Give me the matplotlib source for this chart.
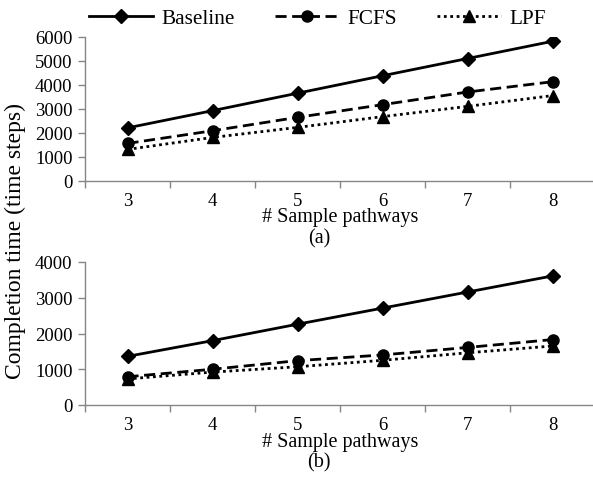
import numpy as np
import matplotlib
matplotlib.use("Agg")
import matplotlib.pyplot as plt

plt.rcParams["font.family"] = ["Liberation Serif", "DejaVu Serif"]

pathways = [3, 4, 5, 6, 7, 8]

# panel (a)
baseline_a = [2200, 2920, 3650, 4380, 5100, 5820]
fcfs_a = [1550, 2080, 2640, 3170, 3700, 4130]
lpf_a = [1300, 1800, 2220, 2670, 3100, 3550]

# panel (b)
baseline_b = [1360, 1800, 2260, 2710, 3160, 3610]
fcfs_b = [790, 1000, 1240, 1400, 1610, 1830]
lpf_b = [730, 920, 1070, 1250, 1460, 1650]

series_names = ["Baseline", "FCFS", "LPF"]

axis_grey = "#868686"
fs = 13.5

fig = plt.figure(figsize=(5.93, 4.81), dpi=100)
ax_a = fig.add_axes([85 / 593, 1 - 181.5 / 481, 510 / 593, 143.5 / 481])
ax_b = fig.add_axes([85 / 593, 1 - 406 / 481, 510 / 593, 143 / 481])


def draw_panel(ax, base, fcfs, lpf, ymax, tag):
    h1, = ax.plot(pathways, base, color="black", lw=2.0, ls="-",
                  marker="D", ms=7, label=series_names[0])
    h2, = ax.plot(pathways, fcfs, color="black", lw=2.0, ls=(0, (4, 2)),
                  marker="o", ms=8, label=series_names[1])
    h3, = ax.plot(pathways, lpf, color="black", lw=2.0, ls=(0, (1, 1.3)),
                  marker="^", ms=8, label=series_names[2])
    ax.set_xlim(2.5, 8.5)
    ax.set_ylim(0, ymax)
    ax.set_yticks(np.arange(0, ymax + 1, 1000))
    # category boundaries get the tick marks, centres get the labels
    ax.set_xticks(np.arange(2.5, 9, 1.0))
    ax.set_xticklabels([])
    ax.set_xticks(pathways, minor=True)
    ax.set_xticklabels([str(p) for p in pathways], minor=True)
    ax.tick_params(axis="x", which="major", direction="out", length=5,
                   color=axis_grey, width=1)
    ax.tick_params(axis="x", which="minor", length=0, pad=8, labelsize=fs)
    ax.tick_params(axis="y", direction="out", length=5, color=axis_grey,
                   width=1, labelsize=fs, pad=4)
    for s in ["top", "right"]:
        ax.spines[s].set_visible(False)
    for s in ["left", "bottom"]:
        ax.spines[s].set_color(axis_grey)
        ax.spines[s].set_linewidth(1)
    ax.set_xlabel("# Sample pathways", fontsize=fs + 1, labelpad=-1)
    ax.text(0.459, -0.40, tag, transform=ax.transAxes, ha="center",
            va="center", fontsize=fs + 1)
    ax.patch.set_visible(False)
    return [h1, h2, h3]


handles = draw_panel(ax_a, baseline_a, fcfs_a, lpf_a, 6000, "(a)")
draw_panel(ax_b, baseline_b, fcfs_b, lpf_b, 4000, "(b)")

fig.legend(handles, series_names, loc="center", bbox_to_anchor=(0.535, 1 - 19 / 481),
           ncol=3, frameon=False, fontsize=fs + 1.8, handlelength=3.0,
           handletextpad=0.4, columnspacing=1.9)

fig.text(15 / 593, 1 - 241 / 481, "Completion time (time steps)", rotation=90,
         ha="center", va="center", fontsize=17)

fig.savefig("out.png", dpi=100)
